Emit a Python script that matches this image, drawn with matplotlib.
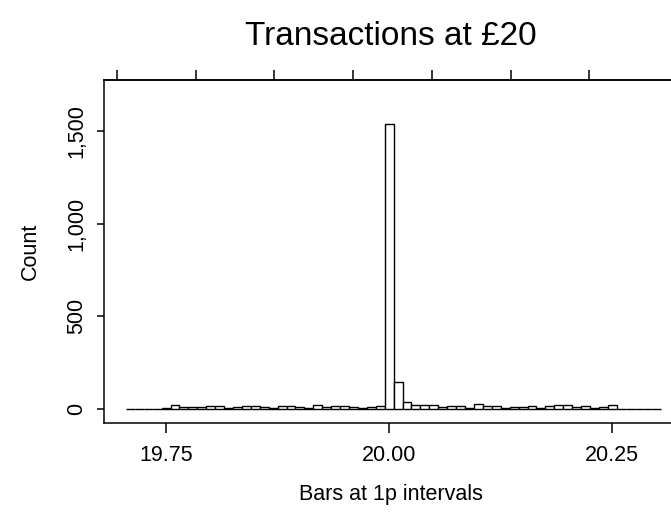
import numpy as np
import matplotlib
matplotlib.use("Agg")
from matplotlib import pyplot as plt
from matplotlib.ticker import FuncFormatter

plt.rcParams["font.family"] = ["Liberation Sans", "DejaVu Sans"]

# Transaction amounts (bin centres, 1p wide) and counts per bin
amounts = np.round(np.arange(19.71, 20.305, 0.01), 2)
counts = [
    1, 1, 1, 2, 7, 20, 10, 10, 10, 17,
    17, 8, 10, 17, 17, 10, 8, 15, 15, 10,
    8, 23, 10, 15, 15, 10, 8, 10, 15, 1540,
    147, 41, 23, 23, 20, 11, 16, 16, 7, 27,
    16, 16, 7, 11, 11, 16, 7, 16, 22, 22,
    13, 16, 7, 11, 23, 1, 1, 1, 1, 1,
]
x_ticks = [19.75, 20.00, 20.25]
y_ticks = [0, 500, 1000, 1500]
top_ticks = [19.695, 19.784, 19.871, 19.960, 20.048, 20.137, 20.224]

fig = plt.figure(figsize=(6.71, 5.2), dpi=100)
ax = fig.add_axes([0.155, 0.1865, 0.856, 0.6595])

ax.bar(amounts, counts, width=0.01, align="center",
       facecolor="white", edgecolor="black", linewidth=1.0)

ax.set_xlim(19.6805, 20.324)
ax.set_ylim(-75, 1775)

ax.set_xticks(x_ticks)
ax.xaxis.set_major_formatter(FuncFormatter(lambda v, _: f"{v:.2f}"))
ax.set_yticks(y_ticks)
ax.yaxis.set_major_formatter(FuncFormatter(lambda v, _: f"{int(v):,}"))
for lbl in ax.get_yticklabels():
    lbl.set_rotation(90)
    lbl.set_va("center")

ax.tick_params(axis="x", direction="out", length=7, width=1.1,
               labelsize=15.5, pad=9)
ax.tick_params(axis="y", direction="out", length=5, width=1.1,
               labelsize=15.5, pad=7)

for spine in ax.spines.values():
    spine.set_linewidth(1.1)

# unlabelled ticks along the top edge
top = ax.secondary_xaxis("top")
top.set_xticks(top_ticks)
top.set_xticklabels([])
top.tick_params(direction="out", length=7, width=1.1)
top.spines["top"].set_linewidth(1.1)

ax.set_xlabel("Bars at 1p intervals", fontsize=15.5, labelpad=13)
ax.set_ylabel("Count", fontsize=15.5, labelpad=18)
fig.text(0.583, 0.930, "Transactions at £20", fontsize=24,
         ha="center", va="center")

fig.savefig("out.png", dpi=100)
